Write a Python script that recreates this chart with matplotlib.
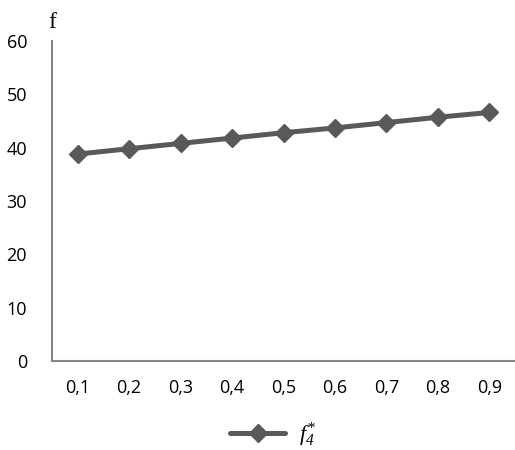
import matplotlib

matplotlib.use("Agg")
import matplotlib.pyplot as plt

categories = ["0,1", "0,2", "0,3", "0,4", "0,5", "0,6", "0,7", "0,8", "0,9"]
f4_values = [38.8, 39.8, 40.8, 41.8, 42.8, 43.7, 44.7, 45.7, 46.6]
y_ticks = [0, 10, 20, 30, 40, 50, 60]

LINE_COLOR = "#595959"
AXIS_COLOR = "#868686"

plt.rcParams["font.family"] = ["Open Sans", "DejaVu Sans"]
plt.rcParams["mathtext.fontset"] = "custom"
plt.rcParams["mathtext.it"] = "Liberation Serif:italic"
plt.rcParams["mathtext.rm"] = "Liberation Serif:italic"

fig = plt.figure(figsize=(5.15, 4.5), dpi=100)
ax = fig.add_axes([52 / 515, 1 - 361 / 450, 1 - 52 / 515, (361 - 41) / 450])

x = range(len(categories))
line, = ax.plot(x, f4_values, color=LINE_COLOR, linewidth=3.6,
                marker="D", markersize=9, solid_capstyle="round")

ax.set_xlim(-0.5, len(categories) - 0.5)
ax.set_ylim(0, 60)
ax.set_xticks(list(x))
ax.set_xticklabels(categories)
ax.set_yticks(y_ticks)
ax.tick_params(axis="both", length=0, labelsize=13, colors="black")
ax.tick_params(axis="x", pad=13)
ax.tick_params(axis="y", pad=18)

for side in ("top", "right"):
    ax.spines[side].set_visible(False)
for side in ("left", "bottom"):
    ax.spines[side].set_color(AXIS_COLOR)
    ax.spines[side].set_linewidth(1.5)

fig.text(52 / 515, 1 - 22 / 450, "f", family="Liberation Serif",
         fontsize=17, ha="center", va="center")

fig.legend([line], [r"$f_{4}^{*}$"], loc="center",
           bbox_to_anchor=(273 / 515, 1 - 435 / 450),
           frameon=False, handlelength=2.5, handletextpad=0.6,
           prop={"family": "Liberation Serif", "size": 16})

fig.savefig("out.png")
